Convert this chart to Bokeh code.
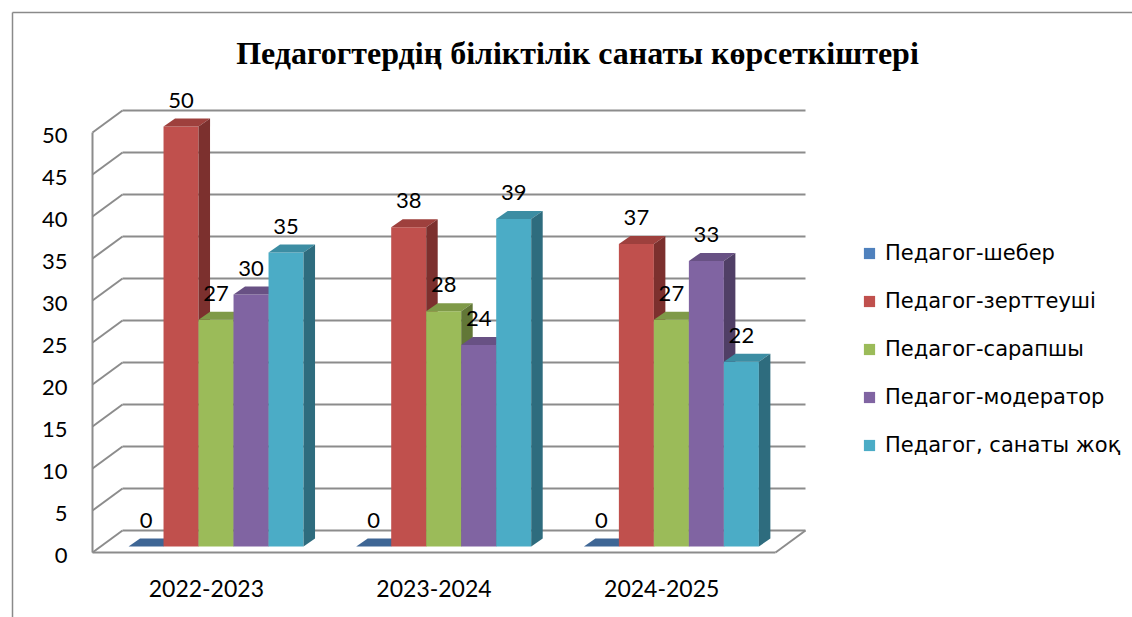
from bokeh.plotting import figure
from bokeh.models import Range1d, ColumnDataSource, Legend, LegendItem
from bokeh.core.properties import value
from bokeh.embed import file_html
from bokeh.resources import INLINE

# ---------------- data ----------------
title_text = "Педагогтердің біліктілік санаты көрсеткіштері"
years = ["2022-2023", "2023-2024", "2024-2025"]
series_names = ["Педагог-шебер", "Педагог-зерттеуші", "Педагог-сарапшы",
                "Педагог-модератор", "Педагог, санаты жоқ"]
# bar heights as drawn
sheber = [0, 0, 0]
zertteushi = [50, 38, 36]
sarapshy = [27, 28, 27]
moderator = [30, 24, 34]
sanaty_zhoq = [35, 39, 22]
# data label texts as printed
sheber_lbl = ["0", "0", "0"]
zertteushi_lbl = ["50", "38", "37"]
sarapshy_lbl = ["27", "28", "27"]
moderator_lbl = ["30", "24", "33"]
sanaty_zhoq_lbl = ["35", "39", "22"]
ticks = [0, 5, 10, 15, 20, 25, 30, 35, 40, 45, 50]

front_colors = ["#4F81BD", "#C0504D", "#9BBB59", "#8064A2", "#4BACC6"]
top_colors = ["#3E6695", "#9E403D", "#7F9A48", "#685184", "#3C8DA3"]
side_colors = ["#2F4D72", "#7C302E", "#627737", "#503F66", "#2E6C7E"]

all_vals = [sheber, zertteushi, sarapshy, moderator, sanaty_zhoq]
all_lbls = [sheber_lbl, zertteushi_lbl, sarapshy_lbl, moderator_lbl, sanaty_zhoq_lbl]

# ---------------- geometry ----------------
W, H = 1132, 617
PX0, PXU = 92.0, 227.67   # screen x of category 0 on front plane, px per category
PY0, PYV = 552.0, 8.4     # screen y of value 0 on front plane, px per unit


def dxu(px):
    return px / PXU


def dyv(px):
    return px / PYV


def X(px):
    return (px - PX0) / PXU


def Y(py):
    return (PY0 - py) / PYV


DXw, DYw = dxu(30), dyv(22)      # wall depth
BW = dxu(35)                     # bar width
SHIFT = dxu(9.7)                 # bar front face depth shift
V0 = dyv(6)
BDX, BDY = dxu(11.5), dyv(8)     # bar depth
NCAT = len(years)
VMAX = ticks[-1]

p = figure(width=W, height=H, output_backend="svg", toolbar_location=None,
           x_range=Range1d(X(0), X(W)), y_range=Range1d(Y(H), Y(0)),
           min_border=0, outline_line_color=None)
p.xaxis.visible = False
p.yaxis.visible = False
p.xgrid.visible = False
p.ygrid.visible = False
p.background_fill_color = "white"
p.border_fill_color = "white"

GRID = "#8c8c8c"
# outer chart border
p.segment(x0=[X(12), X(12)], y0=[Y(12), Y(12)], x1=[X(12), X(W)], y1=[Y(H), Y(12)],
          line_color="#8a8a8a", line_width=1.5)

# back wall gridlines
p.segment(x0=[DXw] * len(ticks), y0=[t + DYw for t in ticks],
          x1=[NCAT + DXw] * len(ticks), y1=[t + DYw for t in ticks],
          line_color=GRID, line_width=2)
# side wall lines
p.segment(x0=[0] * len(ticks), y0=ticks, x1=[DXw] * len(ticks), y1=[t + DYw for t in ticks],
          line_color=GRID, line_width=2)
# front-left edge, floor front, floor right
p.segment(x0=[0, 0, NCAT], y0=[0, 0, 0], x1=[0, NCAT, NCAT + DXw], y1=[VMAX, 0, DYw],
          line_color=GRID, line_width=2)

# bars
legend_items = []
for j, (vals, lbls) in enumerate(zip(all_vals, all_lbls)):
    lefts = [k + 0.5 + SHIFT - 2.5 * BW + j * BW for k in range(NCAT)]
    rights = [l + BW for l in lefts]
    bottoms = [V0] * NCAT
    tops = [V0 + v for v in vals]
    r = p.quad(left=lefts, right=rights, bottom=bottoms, top=tops,
               fill_color=front_colors[j], line_color=None)
    legend_items.append(LegendItem(label=series_names[j], renderers=[r]))
    top_xs = [[l, l + BDX, rr + BDX, rr] for l, rr in zip(lefts, rights)]
    top_ys = [[t, t + BDY, t + BDY, t] for t in tops]
    p.patches(xs=top_xs, ys=top_ys, fill_color=top_colors[j], line_color=None)
    side_xs = [[rr, rr, rr + BDX, rr + BDX] for rr in rights]
    side_ys = [[b, t, t + BDY, b + BDY] for b, t in zip(bottoms, tops)]
    p.patches(xs=side_xs, ys=side_ys, fill_color=side_colors[j], line_color=None)
    # data labels
    p.text(x=[(l + rr) / 2 for l, rr in zip(lefts, rights)],
           y=[t + dyv(26.5) for t in tops], text=lbls,
           text_font=value("Lato"), text_font_size="22px", text_color="black",
           text_align="center", text_baseline="middle")

# tick labels
p.text(x=[X(67)] * len(ticks), y=[t - dyv(2.5) for t in ticks], text=[str(t) for t in ticks],
       text_font=value("Lato"), text_font_size="22px", text_color="black",
       text_align="right", text_baseline="middle")

# category labels
p.text(x=[k + 0.5 for k in range(NCAT)], y=[Y(588)] * NCAT, text=years,
       text_font=value("Lato"), text_font_size="23px", text_color="black",
       text_align="center", text_baseline="middle")

# title
p.text(x=[X(577)], y=[Y(52)], text=[title_text],
       text_font=value("Liberation Serif"), text_font_size="32px", text_font_style="bold",
       text_color="black", text_align="center", text_baseline="middle")

legend = Legend(items=legend_items, location=(862, 160),
                glyph_width=14, glyph_height=14, label_height=24, spacing=24,
                padding=0, margin=0, label_standoff=9,
                label_text_font="DejaVu Sans", label_text_font_size="21px",
                label_text_color="black", border_line_color=None,
                background_fill_alpha=0)
p.add_layout(legend)

open("out.html", "w").write(file_html(p, INLINE))
